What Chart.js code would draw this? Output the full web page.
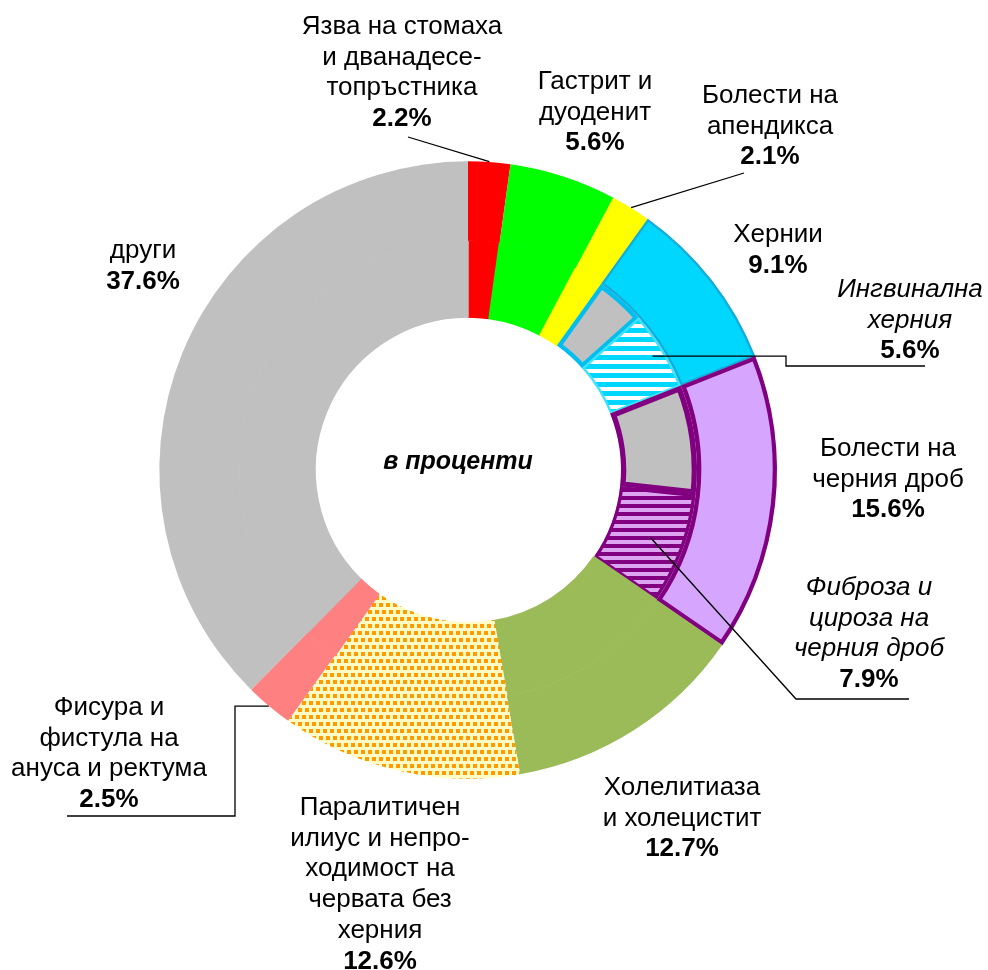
<!DOCTYPE html>
<html lang="bg">
<head>
<meta charset="UTF-8">
<title>Болести на храносмилателната система</title>
<script src="https://cdn.jsdelivr.net/npm/chart.js"></script>
<style>
  html, body { margin: 0; padding: 0; background: #fff; }
  #wrap { width: 988px; height: 970px; }
</style>
</head>
<body>
<div id="wrap"><canvas id="chart" width="988" height="970"></canvas></div>
<script>
// outer ring: main groups, clockwise from the top
const categories = [
  'Язва на стомаха и дванадесетопръстника',
  'Гастрит и дуоденит',
  'Болести на апендикса',
  'Хернии',
  'Болести на черния дроб',
  'Холелитиаза и холецистит',
  'Паралитичен илиус и непроходимост на червата без херния',
  'Фисура и фистула на ануса и ректума',
  'други'
];
const shares = [2.2, 5.6, 2.1, 9.1, 15.6, 12.7, 12.6, 2.5, 37.6];

// inner ring: sub groups inside a main group
const subCategories = ['Ингвинална херния', 'Фиброза и цироза на черния дроб'];
const subShares = [5.6, 7.9];
const subParent = [3, 4];

const labelLines = [
  ['Язва на стомаха', 'и дванадесе-', 'топръстника'],
  ['Гастрит и', 'дуоденит'],
  ['Болести на', 'апендикса'],
  ['Хернии'],
  ['Болести на', 'черния дроб'],
  ['Холелитиаза', 'и холецистит'],
  ['Паралитичен', 'илиус и непро-', 'ходимост на', 'червата без', 'херния'],
  ['Фисура и', 'фистула на', 'ануса и ректума'],
  ['други']
];
const subLabelLines = [
  ['Ингвинална', 'херния'],
  ['Фиброза и', 'цироза на', 'черния дроб']
];
const centerText = 'в проценти';

const canvas = document.getElementById('chart');
const mainCtx = canvas.getContext('2d');

function stripes(bg, fg, period, thick) {
  const c = document.createElement('canvas');
  c.width = 8; c.height = period;
  const g = c.getContext('2d');
  g.fillStyle = bg; g.fillRect(0, 0, 8, period);
  g.fillStyle = fg; g.fillRect(0, 0, 8, thick);
  return mainCtx.createPattern(c, 'repeat');
}
function confetti() {
  const c = document.createElement('canvas');
  c.width = 7; c.height = 14;
  const g = c.getContext('2d');
  g.fillStyle = '#FFFBC4'; g.fillRect(0, 0, 7, 14);
  g.fillStyle = '#FF9A00';
  g.fillRect(1, 1, 4, 4);
  g.fillRect(4, 8, 4, 4);
  g.fillRect(-3, 8, 4, 4);
  return mainCtx.createPattern(c, 'repeat');
}

const GRAY = '#C0C0C0';
const outerColors = ['#FF0000', '#00FF00', '#FFFF00', '#00D7FF', '#D6A6FF',
  '#9BBB59', confetti(), '#FF8080', GRAY];
const outerBorderColors = ['#fff', '#fff', '#fff', '#14ACD8', '#800080', '#fff', '#fff', '#fff', '#fff'];
const outerBorderWidths = [0, 0, 0, 2, 4, 0, 0, 0, 0];
const subColors = [stripes('#00D7FF', '#FFFFFF', 9, 4), stripes('#DDA4F2', '#800080', 8, 4)];
const subBorderColors = [['#00BFF0', '#3FE3FF'], ['#800080', '#800080']];
const subBorderWidths = [[4, 2], [5, 3]];

// inner ring built from the two lists: remainder (gray) first, then the sub group
const innerData = [], innerColors = [], innerBorderColors = [], innerBorderWidths = [], innerAlign = [], innerRef = [];
shares.forEach((v, i) => {
  const s = subParent.indexOf(i);
  if (s < 0) {
    // same colour as the outer piece; a thin own-colour stroke hides the seam
    innerData.push(v); innerColors.push(outerColors[i]);
    innerBorderColors.push(outerColors[i]); innerBorderWidths.push(1.5); innerAlign.push('center'); innerRef.push(null);
  } else {
    innerData.push(+(v - subShares[s]).toFixed(1)); innerColors.push(GRAY);
    innerBorderColors.push(subBorderColors[s][0]); innerBorderWidths.push(subBorderWidths[s][0]); innerAlign.push('inner'); innerRef.push(null);
    innerData.push(subShares[s]); innerColors.push(subColors[s]);
    innerBorderColors.push(subBorderColors[s][1]); innerBorderWidths.push(subBorderWidths[s][1]); innerAlign.push('inner'); innerRef.push(s);
  }
});

const FONT = "'Liberation Sans', Arial, sans-serif";
const SIZE = 26;
const LINE = 30.7;
const labelPos = [[402, 34], [595, 89], [770, 103], [778, 242], [888, 456], [682, 795], [380, 815], [109, 715], [143, 258]];
const subLabelPos = [[910, 297], [869, 595]];
// leader lines: ring, element, depth in ring (0 inner edge .. 1 outer edge), then the bends
const leaders = [
  { ring: 0, idx: 0, depth: 1, path: [[408, 137]] },
  { ring: 0, idx: 2, depth: 1, path: [[744, 173]] },
  { ring: 1, sub: 0, depth: 0.84, path: [[786, null], [786, 366], [925, 366]] },
  { ring: 1, sub: 1, depth: 0.55, path: [[796, 699], [909, 699]] },
  { ring: 0, idx: 7, depth: 1, path: [[235, null], [235, 816], [67, 816]] }
];

const labelPlugin = {
  id: 'labels',
  afterDraw(chart) {
    const ctx = chart.ctx;
    ctx.save();
    ctx.strokeStyle = '#000';
    ctx.lineWidth = 1.3;
    leaders.forEach(l => {
      const meta = chart.getDatasetMeta(l.ring);
      const idx = l.sub != null ? innerRef.indexOf(l.sub) : l.idx;
      const a = meta.data[idx].getProps(['x', 'y', 'startAngle', 'endAngle', 'innerRadius', 'outerRadius'], true);
      const mid = (a.startAngle + a.endAngle) / 2;
      const r = a.innerRadius + l.depth * (a.outerRadius - a.innerRadius);
      let px = a.x + Math.cos(mid) * r, py = a.y + Math.sin(mid) * r;
      ctx.beginPath();
      ctx.moveTo(px, py);
      l.path.forEach(p => {
        px = p[0]; py = p[1] == null ? py : p[1];
        ctx.lineTo(px, py);
      });
      ctx.stroke();
    });

    ctx.fillStyle = '#000';
    ctx.textAlign = 'center';
    ctx.textBaseline = 'alphabetic';
    function drawLabel(lines, value, pos, italic) {
      ctx.font = (italic ? 'italic ' : '') + SIZE + 'px ' + FONT;
      lines.forEach((t, k) => ctx.fillText(t, pos[0], pos[1] + k * LINE));
      ctx.font = 'bold ' + SIZE + 'px ' + FONT;
      ctx.fillText(value.toFixed(1) + '%', pos[0], pos[1] + lines.length * LINE);
    }
    shares.forEach((v, i) => drawLabel(labelLines[i], v, labelPos[i], false));
    subShares.forEach((v, s) => drawLabel(subLabelLines[s], v, subLabelPos[s], true));

    const c = chart.getDatasetMeta(0).data[0];
    ctx.font = 'italic bold 25px ' + FONT;
    ctx.fillText(centerText, c.x - 10, c.y - 1);
    ctx.restore();
  }
};

new Chart(canvas, {
  type: 'doughnut',
  data: {
    labels: categories,
    datasets: [{
      data: shares,
      backgroundColor: outerColors,
      borderColor: outerBorderColors,
      borderWidth: outerBorderWidths,
      borderAlign: 'inner',
      hoverOffset: 0,
      weight: 80
    }, {
      data: innerData,
      backgroundColor: innerColors,
      borderColor: innerBorderColors,
      borderWidth: innerBorderWidths,
      borderAlign: innerAlign,
      hoverOffset: 0,
      weight: 76
    }]
  },
  options: {
    responsive: false,
    animation: false,
    events: [],
    cutout: '49.5%',
    layout: { padding: { left: 159, top: 161, right: 211, bottom: 191 } },
    plugins: {
      legend: { display: false },
      tooltip: { enabled: false }
    }
  },
  plugins: [labelPlugin]
});
</script>
</body>
</html>
